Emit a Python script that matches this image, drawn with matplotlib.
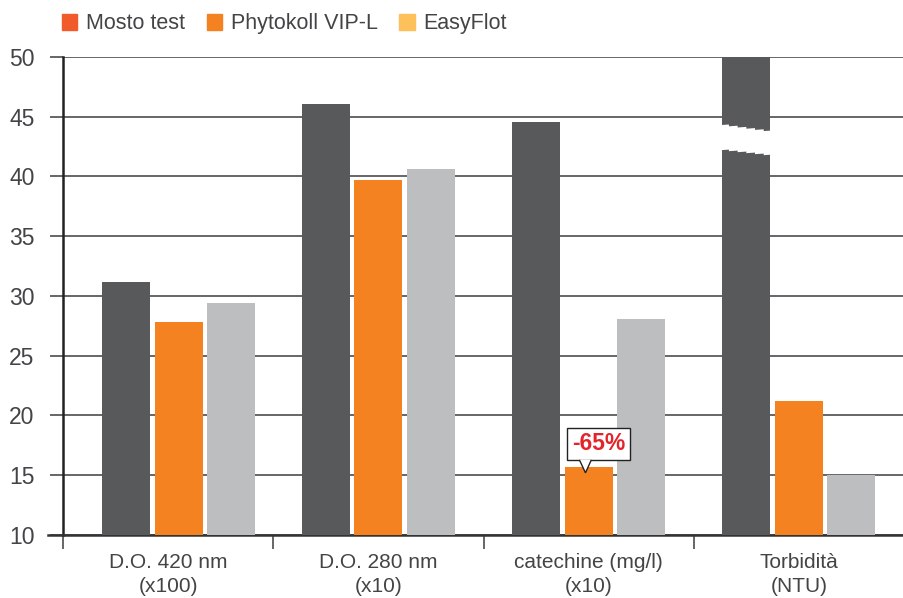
import numpy as np
import matplotlib
matplotlib.use('Agg')
import matplotlib.pyplot as plt
from matplotlib.patches import Patch, Polygon

# --- data ---
categories = ["D.O. 420 nm\n(x100)", "D.O. 280 nm\n(x10)", "catechine (mg/l)\n(x10)", "Torbidità\n(NTU)"]
series_names = ["Mosto test", "Phytokoll VIP-L", "EasyFlot"]
mosto = [31.2, 46.1, 44.6, 50.0]
phytokoll = [27.8, 39.7, 15.7, 21.2]
easyflot = [29.4, 40.6, 28.1, 15.0]
y_ticks = [10, 15, 20, 25, 30, 35, 40, 45, 50]

bar_colors = ["#58595b", "#f58220", "#bcbec0"]
legend_colors = ["#f15a2b", "#f48221", "#fdc05a"]
grid_col = "#4d4d4f"
text_col = "#444446"

plt.rcParams['font.family'] = ['Liberation Sans', 'DejaVu Sans']

fig = plt.figure(figsize=(9.04, 5.98), dpi=100)
ax = fig.add_axes([0.0697, 0.1054, 0.9303, 0.7993])

label_pos = np.arange(len(categories)) + 0.5
centers = label_pos.copy()
centers[0] += 0.05   # first group sits a little right in the original
w = 0.228
step = 0.25
for k, vals in enumerate([mosto, phytokoll, easyflot]):
    ax.bar(centers + (k - 1) * step, np.array(vals) - 10, bottom=10, width=w,
           color=bar_colors[k], zorder=3)

# break in the tall Torbidità bar
xb0 = centers[3] - step - w / 2 - 0.01
xb1 = centers[3] - step + w / 2 + 0.01
n = 7
xs = np.linspace(xb0, xb1, n)
top_edge = np.linspace(44.3, 43.7, n)
bot_edge = np.linspace(42.2, 41.7, n)
pts = []
for i in range(n - 1):
    pts += [(xs[i], top_edge[i]), (xs[i + 1], top_edge[i] + 0.05)]
pts.append((xs[-1], top_edge[-1]))
low = []
for i in range(n - 1):
    low += [(xs[i], bot_edge[i]), (xs[i + 1], bot_edge[i] + 0.05)]
low.append((xs[-1], bot_edge[-1]))
pts += low[::-1]
ax.add_patch(Polygon(pts, closed=True, facecolor='white', edgecolor='none', zorder=4))

# callout on catechine Phytokoll bar
ax.text(2.546, 17.62, "-65%", ha='center', va='center', color='#e3242b',
        fontsize=16.5, fontweight='bold', zorder=6,
        bbox=dict(boxstyle='square,pad=0.2', fc='white', ec='#222222', lw=1))
pointer = Polygon([(2.456, 16.29), (2.485, 15.2), (2.513, 16.29)], closed=False,
                  facecolor='white', edgecolor='#222222', lw=1, zorder=7)
ax.add_patch(pointer)

ax.set_xlim(0, 4)
ax.set_ylim(10, 50)
ax.set_yticks(y_ticks)
ax.set_yticklabels([str(t) for t in y_ticks])
ax.yaxis.grid(True, color=grid_col, lw=1.2, zorder=1)
ax.set_axisbelow(True)
ax.tick_params(axis='y', length=9.5, width=1.2, color=grid_col, labelsize=16.5,
               labelcolor=text_col, pad=11)

ax.set_xticks([0, 1, 2, 3])
ax.set_xticklabels([])
ax.tick_params(axis='x', length=10, width=1.2, color=grid_col, direction='out')
ax.set_xticks(label_pos, minor=True)
ax.set_xticklabels(categories, minor=True, fontsize=15, color=text_col, linespacing=1.3)
ax.tick_params(axis='x', which='minor', length=0, pad=13)

for s in ['top', 'right']:
    ax.spines[s].set_visible(False)
ax.spines['left'].set_color('#222222')
ax.spines['left'].set_linewidth(1.8)
ax.spines['bottom'].set_color('#333333')
ax.spines['bottom'].set_linewidth(1.8)
ax.spines['bottom'].set_bounds(-0.07, 4)

handles = [Patch(color=c) for c in legend_colors]
fig.legend(handles, series_names, loc='upper left', bbox_to_anchor=(0.047, 1.01),
           ncol=3, frameon=False, fontsize=15.5, handlelength=0.72, handleheight=0.72,
           handletextpad=0.4, columnspacing=1.0, labelcolor=text_col)

fig.savefig('out.png', dpi=100)
